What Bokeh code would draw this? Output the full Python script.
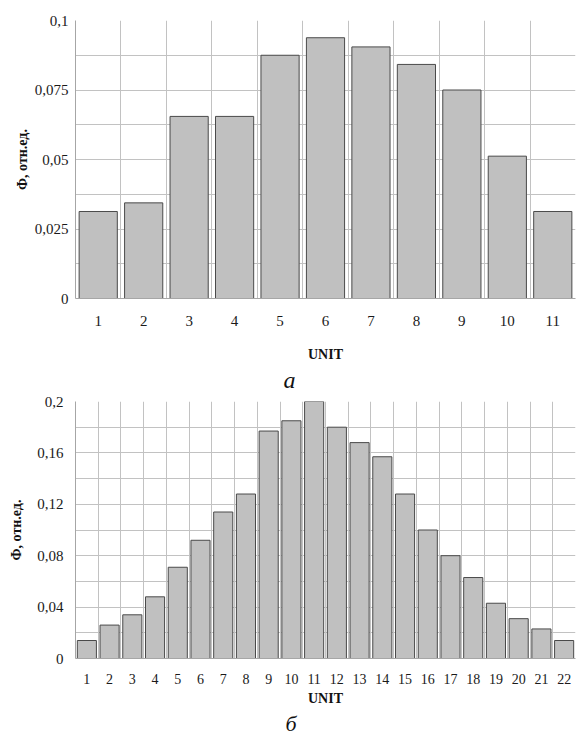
from bokeh.plotting import figure
from bokeh.layouts import column
from bokeh.models import Range1d, FixedTicker, Title
from bokeh.embed import file_html
from bokeh.resources import INLINE

# ---- chart а ----
units_a = [1, 2, 3, 4, 5, 6, 7, 8, 9, 10, 11]
phi_a = [0.0313, 0.0344, 0.0655, 0.0655, 0.0875, 0.0938, 0.0905, 0.0842, 0.0750, 0.0512, 0.0313]
y_ticks_a = [0, 0.025, 0.05, 0.075, 0.1]
y_labels_a = ["0", "0,025", "0,05", "0,075", "0,1"]
y_grid_a = [0, 0.0125, 0.025, 0.0375, 0.05, 0.0625, 0.075, 0.0875, 0.1]

# ---- chart б ----
units_b = [1, 2, 3, 4, 5, 6, 7, 8, 9, 10, 11, 12, 13, 14, 15, 16, 17, 18, 19, 20, 21, 22]
phi_b = [0.014, 0.026, 0.034, 0.048, 0.071, 0.092, 0.114, 0.128, 0.177, 0.185, 0.200,
         0.180, 0.168, 0.157, 0.128, 0.100, 0.080, 0.063, 0.043, 0.031, 0.023, 0.014]
y_ticks_b = [0, 0.04, 0.08, 0.12, 0.16, 0.2]
y_labels_b = ["0", "0,04", "0,08", "0,12", "0,16", "0,2"]
y_grid_b = [0, 0.02, 0.04, 0.06, 0.08, 0.1, 0.12, 0.14, 0.16, 0.18, 0.2]

x_title = "UNIT"
y_title = "Ф, отн.ед."

SERIF = "Liberation Serif"


def make_chart(units, vals, yticks, ylabels, ygrid, caption, height, left, top, bottom,
               xtick_size, x_standoff, xlab_standoff, y_standoff, ylab_standoff,
               cap_offset, cap_size):
    p = figure(width=576, height=height,
               x_range=Range1d(units[0] - 0.5, units[-1] + 0.5),
               y_range=Range1d(yticks[0], yticks[-1]),
               output_backend="svg", toolbar_location=None,
               min_border_left=left, min_border_right=1,
               min_border_top=top, min_border_bottom=bottom)
    p.outline_line_color = None
    p.background_fill_color = "white"
    p.border_fill_color = "white"

    bounds = [u - 0.5 for u in units] + [units[-1] + 0.5]
    p.xgrid.ticker = FixedTicker(ticks=bounds)
    p.ygrid.ticker = FixedTicker(ticks=ygrid)
    for g in (p.xgrid, p.ygrid):
        g.grid_line_color = "#c2c2c2"
        g.grid_line_width = 1

    p.vbar(x=units, top=vals, width=0.84, fill_color="#c0c0c0",
           line_color="#4a4a4a", line_width=1)

    p.xaxis.ticker = FixedTicker(ticks=units)
    p.yaxis.ticker = FixedTicker(ticks=yticks)
    p.yaxis.major_label_overrides = dict(zip(yticks, ylabels))

    for ax in (p.xaxis[0], p.yaxis[0]):
        ax.major_tick_out = 0
        ax.major_tick_in = 0
        ax.minor_tick_out = 0
        ax.minor_tick_in = 0
        ax.axis_line_color = "#a6a6a6"
        ax.major_label_text_font = SERIF
        ax.major_label_text_color = "#1a1a1a"
        ax.axis_label_text_font = SERIF
        ax.axis_label_text_font_style = "bold"
        ax.axis_label_text_color = "#111111"
        ax.axis_label_text_font_size = "14px"

    p.xaxis.major_label_text_font_size = xtick_size
    p.yaxis.major_label_text_font_size = "15px"
    p.xaxis.major_label_standoff = x_standoff
    p.yaxis.major_label_standoff = y_standoff
    p.xaxis.axis_label = x_title
    p.yaxis.axis_label = y_title
    p.xaxis.axis_label_standoff = xlab_standoff
    p.yaxis.axis_label_standoff = ylab_standoff

    p.add_layout(Title(text=caption, align="left", offset=cap_offset,
                       text_font=SERIF, text_font_style="italic",
                       text_font_size=cap_size, text_color="#111111",
                       standoff=0), "below")
    return p


pa = make_chart(units_a, phi_a, y_ticks_a, y_labels_a, y_grid_a, "а",
                height=392, left=75, top=20, bottom=94,
                xtick_size="15px", x_standoff=17, xlab_standoff=18,
                y_standoff=7, ylab_standoff=2,
                cap_offset=208, cap_size="24px")
pb = make_chart(units_b, phi_b, y_ticks_b, y_labels_b, y_grid_b, "б",
                height=343, left=71, top=9, bottom=75,
                xtick_size="14px", x_standoff=15, xlab_standoff=4,
                y_standoff=12, ylab_standoff=10,
                cap_offset=210, cap_size="22px")

layout = column(pa, pb, spacing=0)
open("out.html", "w").write(file_html(layout, INLINE))
